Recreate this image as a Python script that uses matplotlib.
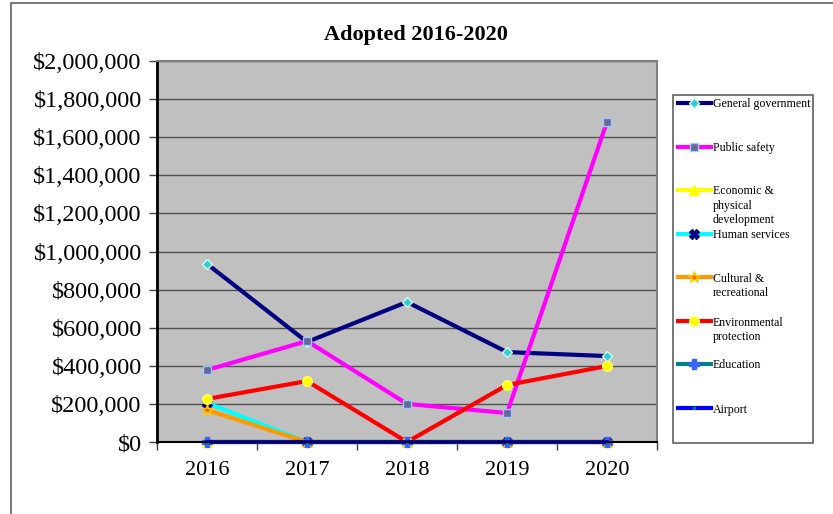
import matplotlib.pyplot as plt
from matplotlib.lines import Line2D
from matplotlib.patches import Rectangle
from matplotlib.ticker import FuncFormatter

years = ['2016', '2017', '2018', '2019', '2020']

general_gov = [935000, 525000, 735000, 472000, 451000]
public_safety = [378000, 530000, 200000, 152000, 1680000]
economic_dev = [0, 0, 0, 0, 0]
human_services = [205000, 0, 0, 0, 0]
cultural_rec = [168000, 0, 0, 0, 0]
environmental = [226000, 320000, 0, 299000, 399000]
education = [0, 0, 0, 0, 0]
airport = [0, 0, 0, 0, 0]

labels = ['General government', 'Public safety', 'Economic &\nphysical\ndevelopment',
          'Human services', 'Cultural &\nrecreational', 'Environmental\nprotection',
          'Education', 'Airport']

# line colour, marker, marker face, marker edge, marker size
styles = [
    ('#000080', 'D', '#33CCCC', '#CCFFFF', 5),
    ('#FF00FF', 's', '#666699', '#99CCFF', 6),
    ('#FFFF00', '^', '#FFFF00', '#FFFF00', 7),
    ('#00FFFF', 'X', '#000080', '#000080', 7),
    ('#FF9900', '*', '#FF6600', '#FFCC00', 9),
    ('#FF0000', 'o', '#FFFF00', '#FFFF66', 7),
    ('#008080', 'P', '#3366FF', '#3366FF', 7),
    ('#0000FF', 's', '#008080', '#008080', 2),
]

series = [general_gov, public_safety, economic_dev, human_services,
          cultural_rec, environmental, education, airport]

plt.rcParams['font.family'] = ['Liberation Serif', 'DejaVu Serif']

fig = plt.figure(figsize=(8.33, 5.14), dpi=100)
# outer chart border (only left and top edges fall inside the image)
fig.patches.append(Rectangle((11 / 833, -0.2), 1.2, 1.2 - 3 / 514, transform=fig.transFigure,
                             fill=False, edgecolor='#606060', lw=1.2))

ax = fig.add_axes([157 / 833, 1 - 442 / 514, 500 / 833, 381 / 514])
ax.set_facecolor('#C0C0C0')

x = list(range(len(years)))
for vals, (col, mk, mfc, mec, ms) in zip(series, styles):
    ax.plot(x, vals, color=col, lw=3, marker=mk, markerfacecolor=mfc,
            markeredgecolor=mec, markersize=ms, markeredgewidth=1, clip_on=False)

ax.set_xlim(-0.5, 4.5)
ax.set_ylim(0, 2000000)
ax.set_yticks(range(0, 2000001, 200000))
ax.yaxis.set_major_formatter(FuncFormatter(lambda v, p: '${:,.0f}'.format(v)))
ax.set_xticks(x)
ax.set_xticklabels(years)
ax.set_xticks([i - 0.5 for i in range(6)], minor=True)
ax.tick_params(axis='x', which='major', length=0, labelsize=16, pad=14)
ax.tick_params(axis='x', which='minor', length=6, width=1, color='#404040')
ax.tick_params(axis='y', length=6, width=1, color='#404040', labelsize=17.5, pad=5)
ax.grid(axis='y', color='#505050', lw=1)
ax.set_axisbelow(True)
for s in ['top', 'right']:
    ax.spines[s].set_color('#808080')
    ax.spines[s].set_linewidth(1.5)
ax.spines['left'].set_color('black')
ax.spines['left'].set_linewidth(2)
ax.spines['bottom'].set_color('black')
ax.spines['bottom'].set_linewidth(1.5)

fig.text(416 / 833, 1 - 35 / 514, 'Adopted 2016-2020', ha='center', va='center',
         fontsize=16, fontweight='bold')

# legend
fig.patches.append(Rectangle((673 / 833, 1 - 443 / 514), 140 / 833, 348 / 514,
                             transform=fig.transFigure, fill=False,
                             edgecolor='#606060', lw=1.2))
leg_y = [103, 147, 190, 234, 277, 321, 364, 408]
for yy, lab, (col, mk, mfc, mec, ms) in zip(leg_y, labels, styles):
    yf = 1 - yy / 514
    fig.add_artist(Line2D([678 / 833, 711 / 833], [yf, yf], color=col, lw=3,
                          transform=fig.transFigure))
    fig.add_artist(Line2D([694 / 833], [yf], marker=mk, markerfacecolor=mfc,
                          markeredgecolor=mec, markersize=ms, lw=0,
                          transform=fig.transFigure))
    fig.text(713 / 833, yf + 4.5 / 514, lab, ha='left', va='top', fontsize=8.6,
             linespacing=1.25)

fig.savefig('out.png', dpi=100)
